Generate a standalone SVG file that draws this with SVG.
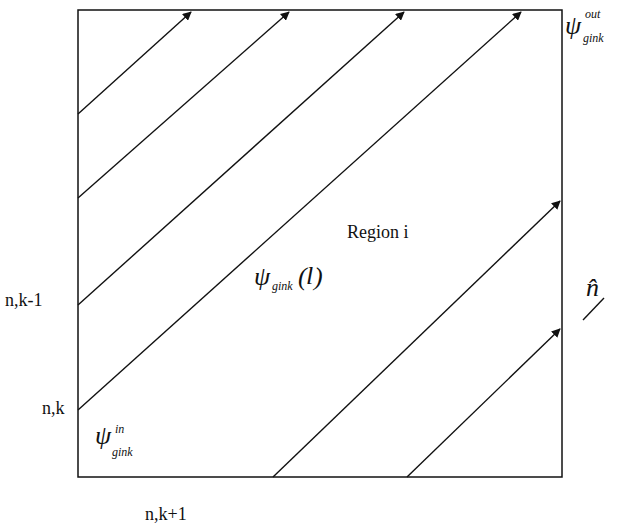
<svg xmlns="http://www.w3.org/2000/svg" width="621" height="529" viewBox="0 0 621 529">
<style>
.box{fill:none;stroke:#111;stroke-width:1.5}
.ray{stroke:#111;stroke-width:1.4;fill:none}
.t{font-family:"Liberation Serif",serif;font-size:18px;fill:#111}
.psi{font-family:"Liberation Serif",serif;font-style:italic;font-size:26px;fill:#111}
.sub{font-family:"Liberation Serif",serif;font-style:italic;font-size:12px;fill:#111}
</style>
<defs>
<marker id="ah" viewBox="0 0 10 10" refX="9" refY="5" markerWidth="9" markerHeight="9" markerUnits="userSpaceOnUse" orient="auto">
<path d="M0,0 L10,5 L0,10 z" fill="#111"/>
</marker>
</defs>
<rect id="region" class="box" x="78" y="10" width="484" height="467"/>
<g id="connectors">
<line class="ray" x1="78" y1="114" x2="191" y2="12" marker-end="url(#ah)"/>
<line class="ray" x1="78" y1="198" x2="289" y2="12" marker-end="url(#ah)"/>
<line class="ray" x1="78" y1="305" x2="404" y2="12" marker-end="url(#ah)"/>
<line class="ray" x1="78" y1="410" x2="521" y2="12" marker-end="url(#ah)"/>
<line class="ray" x1="273" y1="477" x2="560" y2="201" marker-end="url(#ah)"/>
<line class="ray" x1="407" y1="477" x2="560" y2="329" marker-end="url(#ah)"/>
<line class="ray" x1="583" y1="320" x2="604" y2="298"/>
</g>
<g id="labels">
<text class="t" x="5" y="306">n,k-1</text>
<text class="t" x="42" y="414">n,k</text>
<text class="t" x="145" y="520">n,k+1</text>
<text class="t" x="347" y="238">Region i</text>
<text class="psi" x="565" y="34">ψ</text>
<text class="sub" x="585" y="18">out</text>
<text class="sub" x="583" y="42">gink</text>
<text class="psi" x="254" y="285">ψ</text>
<text class="sub" x="272" y="290">gink</text>
<text class="psi" x="298" y="285" font-size="22" font-style="normal">(</text>
<text class="psi" x="306" y="284" font-size="22">l</text>
<text class="psi" x="314" y="285" font-size="22" font-style="normal">)</text>
<text class="psi" x="95" y="444">ψ</text>
<text class="sub" x="115" y="433">in</text>
<text class="sub" x="112" y="456">gink</text>
<text class="psi" x="586" y="296" font-size="22">n̂</text>
</g>
</svg>
